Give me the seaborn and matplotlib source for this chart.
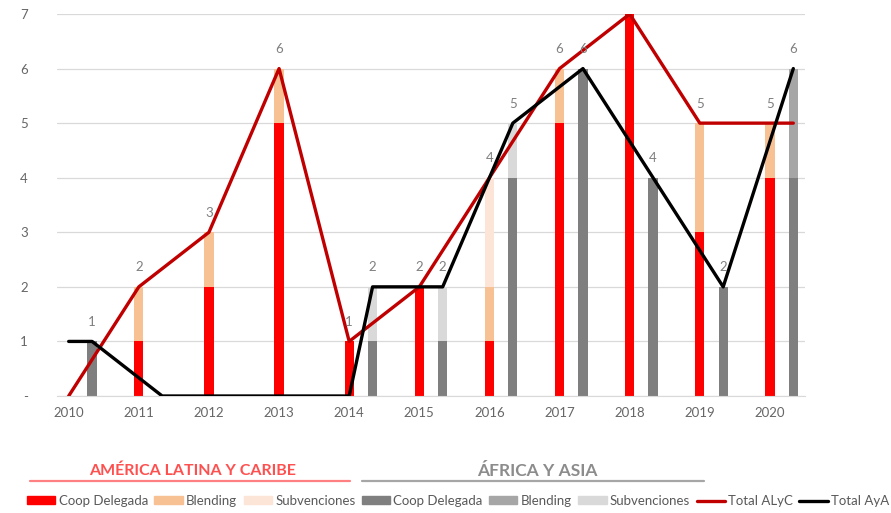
import matplotlib
matplotlib.use("Agg")
import matplotlib.pyplot as plt
from matplotlib.lines import Line2D
from matplotlib.patches import Patch
import numpy as np
import pandas as pd
import seaborn as sns

# data
years = [2010, 2011, 2012, 2013, 2014, 2015, 2016, 2017, 2018, 2019, 2020]

alyc_coop = [0, 1, 2, 5, 1, 2, 1, 5, 7, 3, 4]
alyc_blend = [0, 1, 1, 1, 0, 0, 1, 1, 0, 2, 1]
alyc_subv = [0, 0, 0, 0, 0, 0, 2, 0, 0, 0, 0]

aya_coop = [1, 0, 0, 0, 1, 1, 4, 6, 4, 2, 4]
aya_blend = [0, 0, 0, 0, 0, 0, 0, 0, 0, 0, 2]
aya_subv = [0, 0, 0, 0, 1, 1, 1, 0, 0, 0, 0]

# total lines, one value per slot (ALyC, AyA, gap for each year)
nan = np.nan
total_alyc_line = [0, nan, nan, 2, nan, nan, 3, nan, nan, 6, nan, nan,
                   1, nan, nan, 2, nan, nan, 4, nan, nan, 6, nan, nan,
                   7, nan, nan, 5, nan, nan, 5, 5]
total_aya_line = [1, 1, nan, nan, 0, nan, nan, 0, nan, nan, 0, nan,
                  0, 2, nan, nan, 2, nan, nan, 5, nan, nan, 6, nan,
                  nan, 4, nan, nan, 2, nan, nan, 6]

ytick_labels = ["-", "1", "2", "3", "4", "5", "6", "7"]

legend_labels = ["Coop Delegada", "Blending", "Subvenciones",
                 "Coop Delegada", "Blending", "Subvenciones",
                 "Total ALyC", "Total AyA"]

alyc_colors = ["#FF0000", "#F8C193", "#FCE4D6"]
aya_colors = ["#7F7F7F", "#A6A6A6", "#D9D9D9"]
line_colors = ["#C00000", "#000000"]

sns.set_style("white")
plt.rcParams["font.family"] = ["Lato", "DejaVu Sans"]

df = pd.DataFrame({
    "year": years,
    "alyc_coop": alyc_coop, "alyc_blend": alyc_blend, "alyc_subv": alyc_subv,
    "aya_coop": aya_coop, "aya_blend": aya_blend, "aya_subv": aya_subv,
})
df["x_alyc"] = np.arange(len(years)) * 3
df["x_aya"] = df["x_alyc"] + 1
df["alyc_total"] = df["alyc_coop"] + df["alyc_blend"] + df["alyc_subv"]
df["aya_total"] = df["aya_coop"] + df["aya_blend"] + df["aya_subv"]

n_slots = len(total_alyc_line)
lines = pd.DataFrame({
    "slot": np.arange(n_slots),
    "alyc": total_alyc_line,
    "aya": total_aya_line,
})

fig = plt.figure(figsize=(8.91, 5.13), dpi=100)
ax = fig.add_axes([57 / 891, 1 - 396 / 513, 748 / 891, 382 / 513])

bar_w = 0.4 / 3

# stacked bars drawn as overlapping cumulative heights
for prefix, xcol, colors in [("alyc", "x_alyc", alyc_colors),
                             ("aya", "x_aya", aya_colors)]:
    coop = df[f"{prefix}_coop"]
    blend = df[f"{prefix}_blend"]
    subv = df[f"{prefix}_subv"]
    layers = [coop + blend + subv, coop + blend, coop]
    for heights, col in zip(layers, colors[::-1]):
        sns.barplot(x=df[xcol], y=heights, native_scale=True, width=bar_w,
                    color=col, saturation=1, linewidth=0, errorbar=None,
                    ax=ax, zorder=2)

sns.lineplot(data=lines, x="slot", y="alyc", color=line_colors[0],
             linewidth=2.4, ax=ax, zorder=3)
sns.lineplot(data=lines, x="slot", y="aya", color=line_colors[1],
             linewidth=2.4, ax=ax, zorder=3)

# data labels
for _, row in df.iterrows():
    for xcol, tcol in [("x_alyc", "alyc_total"), ("x_aya", "aya_total")]:
        if row[tcol] > 0:
            ax.annotate(str(int(row[tcol])), (row[xcol], row[tcol]),
                        xytext=(0, 14), textcoords="offset points",
                        ha="center", va="center", fontsize=9.5,
                        color="#7F7F7F", annotation_clip=False, zorder=4)

ax.set_xlim(-0.5, n_slots - 0.5)
ax.set_ylim(0, 7)
ax.set_xticks(df["x_alyc"])
ax.set_xticklabels([str(y) for y in years])
ax.set_xticks(np.arange(-0.5, n_slots, 1), minor=True)
ax.tick_params(axis="x", which="major", length=0, pad=8, labelsize=9.5,
               labelcolor="#666666")
ax.tick_params(axis="x", which="minor", length=4, color="#D9D9D9", width=0.8)
ax.set_yticks(range(8))
ax.set_yticklabels(ytick_labels)
ax.tick_params(axis="y", length=0, pad=21, labelsize=9.5, labelcolor="#666666")
ax.grid(axis="y", color="#D9D9D9", linewidth=0.9)
ax.set_axisbelow(True)
for side in ["top", "right", "left"]:
    ax.spines[side].set_visible(False)
ax.spines["bottom"].set_color("#D9D9D9")
ax.set_xlabel("")
ax.set_ylabel("")

# group headers above the legend
fig.text(193 / 891, 1 - 471 / 513, "AMÉRICA LATINA Y CARIBE", ha="center",
         va="center", fontsize=11.5, fontweight="bold", color="#FF5050")
fig.add_artist(Line2D([30 / 891, 350 / 891], [1 - 481 / 513] * 2,
                      color="#FF8080", linewidth=1.6))
fig.text(537 / 891, 1 - 471 / 513, "ÁFRICA Y ASIA", ha="center",
         va="center", fontsize=12.5, fontweight="bold", color="#8C8C8C")
fig.add_artist(Line2D([362 / 891, 704 / 891], [1 - 481 / 513] * 2,
                      color="#A6A6A6", linewidth=1.6))

handles = [Patch(color=c) for c in alyc_colors + aya_colors]
handles += [Line2D([], [], color=c, linewidth=2.4) for c in line_colors]
leg = fig.legend(handles, legend_labels, ncol=8, loc="center left",
                 bbox_to_anchor=(27 / 891, 1 - 501 / 513),
                 bbox_transform=fig.transFigure, frameon=False,
                 fontsize=9.5, handlelength=2.15, handleheight=0.55,
                 handletextpad=0.25, columnspacing=0.48,
                 borderpad=0, borderaxespad=0)
for t in leg.get_texts():
    t.set_color("#595959")

fig.savefig("out.png", dpi=100)
